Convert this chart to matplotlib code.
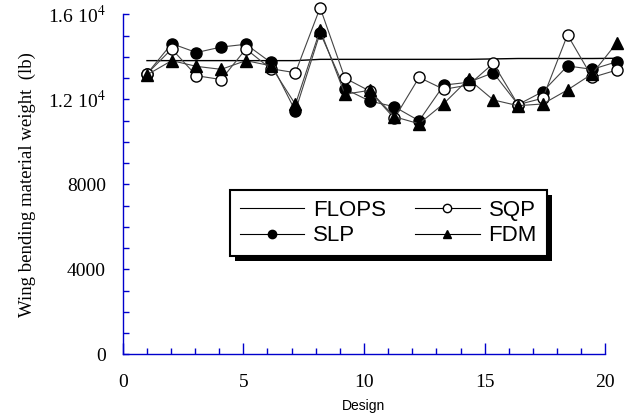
import matplotlib
matplotlib.use('Agg')
import matplotlib.pyplot as plt
from matplotlib.ticker import MultipleLocator, FixedLocator
from matplotlib.patches import Rectangle
import numpy as np

plt.rcParams['mathtext.fontset'] = 'stix'

design = np.arange(1, 21)
flops = [13820, 13820, 13820, 13820, 13820, 13820, 13820, 13880, 13880, 13880,
         13880, 13880, 13880, 13880, 13900, 13920, 13920, 13920, 13920, 13930]
slp = [13200, 14620, 14200, 14460, 14590, 13740, 11450, 15130, 12490, 11920,
       11650, 10990, 12670, 12800, 13250, 11750, 12360, 13570, 13410, 13770]
sqp = [13200, 14370, 13110, 12930, 14370, 13440, 13250, 16310, 13000, 12390,
       11100, 13030, 12470, 12670, 13690, 11750, 12050, 15030, 13030, 13380]
fdm = [13150, 13820, 13550, 13410, 13820, 13580, 11760, 15270, 12240, 12420,
       11180, 10850, 11800, 12950, 11970, 11700, 11780, 12440, 13200, 14670]

ytick_vals = [0, 4000, 8000, 12000, 16000]
ytick_labels = ['0', '4000', '8000', '1.2 10$^4$', '1.6 10$^4$']

blue = '#0000cc'
serif = 'Liberation Serif'
sans = 'Liberation Sans'

fig = plt.figure(figsize=(6.35, 4.17), dpi=100)
rect = [0.1932, 0.1504, 0.76, 0.8153]
ax = fig.add_axes(rect)

ax.set_xlim(0, 20)
ax.set_ylim(0, 16000)
for s in ['top', 'right']:
    ax.spines[s].set_visible(False)
for s in ['left', 'bottom']:
    ax.spines[s].set_color(blue)
    ax.spines[s].set_linewidth(1.0)

ax.xaxis.set_major_locator(MultipleLocator(5))
ax.xaxis.set_minor_locator(MultipleLocator(1))
ax.yaxis.set_major_locator(FixedLocator(ytick_vals))
ax.yaxis.set_minor_locator(MultipleLocator(1000))
ax.set_yticklabels(ytick_labels)
ax.tick_params(axis='x', which='major', direction='in', length=8, color=blue,
               width=1, pad=14, labelsize=14)
ax.tick_params(axis='x', which='minor', direction='in', length=4.5, color=blue, width=1)
ax.tick_params(axis='y', which='both', direction='in', length=4.5, color=blue,
               width=1, pad=12, labelsize=14)
for lab in ax.get_xticklabels() + ax.get_yticklabels():
    lab.set_fontfamily(serif)

ax.set_xlabel('Design', fontfamily=sans, fontsize=10, labelpad=6)
ax.set_ylabel('Wing bending material weight  (lb)', fontfamily=serif, fontsize=13.5, labelpad=9)

# data layer (points in the original sit slightly off the tick positions)
ax2 = fig.add_axes(rect)
ax2.set_xlim(0.018, 19.527)
ax2.set_ylim(0, 16000)
ax2.axis('off')

lc = '#444444'
h1, = ax2.plot(design, flops, '-', color='black', lw=1.0, clip_on=False, label='FLOPS')
h2, = ax2.plot(design, slp, '-o', color=lc, lw=0.8, mfc='black', mec='black',
               ms=8, clip_on=False, label='SLP')
h3, = ax2.plot(design, sqp, '-o', color=lc, lw=0.8, mfc='white', mec='black',
               mew=1.0, ms=8, clip_on=False, label='SQP')
h4, = ax2.plot(design, fdm, '-^', color=lc, lw=0.8, mfc='black', mec='black',
               ms=8, clip_on=False, label='FDM')

leg = ax2.legend(handles=[h1, h2, h3, h4], ncol=2, loc='upper left',
                 bbox_to_anchor=(230 / 635, 1 - 190 / 417),
                 bbox_transform=fig.transFigure,
                 prop={'family': sans, 'size': 16}, frameon=True, fancybox=False,
                 handlelength=2.9, handletextpad=0.4, columnspacing=1.3,
                 labelspacing=0.2, borderpad=0.45, borderaxespad=0, markerscale=0.75)
leg.get_frame().set_edgecolor('black')
leg.get_frame().set_linewidth(1.5)
leg.get_frame().set_alpha(1)
leg.set_zorder(10)
for line in leg.get_lines():
    line.set_color('black')
    line.set_linewidth(0.8)

# drop shadow of the legend box, offset down and right
fig.canvas.draw()
bb = leg.get_window_extent().transformed(fig.transFigure.inverted())
shadow = Rectangle((bb.x0 + 5 / 635, bb.y0 - 5 / 417), bb.width, bb.height,
                   transform=fig.transFigure, facecolor='black', edgecolor='none',
                   zorder=9, clip_on=False)
ax2.add_patch(shadow)

fig.savefig('out.png', dpi=100)
